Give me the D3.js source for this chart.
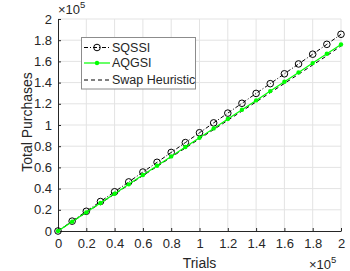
<!DOCTYPE html>
<html>
<head>
<meta charset="utf-8">
<script src="https://cdn.jsdelivr.net/npm/d3@7"></script>
<style>
  body { margin: 0; background: #fff; }
  text { font-family: "Liberation Sans", Arial, Helvetica, sans-serif; fill: #262626; }
</style>
</head>
<body>
<div id="chart"></div>
<script>
// data
var trials = [0, 10000, 20000, 30000, 40000, 50000, 60000, 70000, 80000, 90000, 100000,
  110000, 120000, 130000, 140000, 150000, 160000, 170000, 180000, 190000, 200000];
var sqssi = [0, 9300, 18600, 27800, 37000, 46300, 55600, 64800, 74100, 83400, 92700,
  102000, 111200, 120500, 129800, 139000, 148300, 157600, 166800, 176100, 185600];
var aqgsi = [0, 8800, 17600, 26400, 35200, 44000, 52800, 61600, 70400, 79200, 88000,
  96800, 105600, 114400, 123200, 132000, 140800, 149600, 158400, 167200, 176000];
var swap = [0, 8700, 17400, 26100, 34800, 43500, 52200, 60900, 69600, 78300, 87000,
  95700, 104400, 113100, 121800, 130500, 139200, 147900, 156600, 165300, 174600];
var xTicks = [0, 20000, 40000, 60000, 80000, 100000, 120000, 140000, 160000, 180000, 200000];
var yTicks = [0, 20000, 40000, 60000, 80000, 100000, 120000, 140000, 160000, 180000, 200000];
var seriesNames = ["SQSSI", "AQGSI", "Swap Heuristic"];

var width = 350, height = 271;
var margin = {top: 19, right: 9, bottom: 40, left: 58};

var svg = d3.select("#chart").append("svg")
  .attr("width", width)
  .attr("height", height);

var x = d3.scaleLinear().domain([0, 200000]).range([margin.left, width - margin.right]);
var y = d3.scaleLinear().domain([0, 200000]).range([height - margin.bottom, margin.top]);

var fmt = function(d){ return d === 0 ? "0" : d3.format("~g")(d / 1e5); };

// grid
svg.append("g").selectAll("line").data(xTicks.slice(1)).enter().append("line")
  .attr("x1", function(d){ return x(d); }).attr("x2", function(d){ return x(d); })
  .attr("y1", y(0)).attr("y2", y(200000))
  .attr("stroke", "#e3e3e3").attr("stroke-width", 1);
svg.append("g").selectAll("line").data(yTicks.slice(1)).enter().append("line")
  .attr("y1", function(d){ return y(d); }).attr("y2", function(d){ return y(d); })
  .attr("x1", x(0)).attr("x2", x(200000))
  .attr("stroke", "#e3e3e3").attr("stroke-width", 1);

// axes
var xAxis = svg.append("g")
  .attr("transform", "translate(0," + y(0) + ")")
  .call(d3.axisBottom(x).tickValues(xTicks).tickFormat(fmt).tickSizeInner(-3).tickSizeOuter(0).tickPadding(8));
var yAxis = svg.append("g")
  .attr("transform", "translate(" + x(0) + ",0)")
  .call(d3.axisLeft(y).tickValues(yTicks).tickFormat(fmt).tickSizeInner(-3).tickSizeOuter(0).tickPadding(6));
[xAxis, yAxis].forEach(function(a){
  a.attr("font-size", null).attr("font-family", null);
  a.select(".domain").attr("stroke", "#262626");
  a.selectAll(".tick line").attr("stroke", "#262626");
  a.selectAll(".tick text").attr("fill", "#262626")
    .style("font-size", "13px")
    .style("font-family", "'Liberation Sans', Arial, sans-serif");
});

// exponent labels
var topExp = svg.append("text").attr("x", 58).attr("y", 14).style("font-size", "13px");
topExp.append("tspan").text("\u00d710");
topExp.append("tspan").attr("dy", -6).style("font-size", "9.5px").text("5");
var botExp = svg.append("text").attr("x", 309).attr("y", 269).style("font-size", "13px");
botExp.append("tspan").text("\u00d710");
botExp.append("tspan").attr("dy", -6).style("font-size", "9.5px").text("5");

// axis titles
svg.append("text").attr("x", x(100000)).attr("y", 268)
  .attr("text-anchor", "middle").style("font-size", "14px").text("Trials");
svg.append("text").attr("transform", "translate(32,122) rotate(-90)")
  .attr("text-anchor", "middle").style("font-size", "14px").text("Total Purchases");

// lines
function line(vals){
  return d3.line().x(function(d, i){ return x(trials[i]); }).y(function(d){ return y(d); })(vals);
}

svg.append("path").attr("d", line(swap))
  .attr("fill", "none").attr("stroke", "#000").attr("stroke-width", 1)
  .attr("stroke-dasharray", "4,3");

svg.append("path").attr("d", line(sqssi))
  .attr("fill", "none").attr("stroke", "#000").attr("stroke-width", 1)
  .attr("stroke-dasharray", "4,2,1,2");
svg.append("g").selectAll("circle").data(sqssi).enter().append("circle")
  .attr("cx", function(d, i){ return x(trials[i]); })
  .attr("cy", function(d){ return y(d); })
  .attr("r", 3.3).attr("fill", "none").attr("stroke", "#000").attr("stroke-width", 1);

svg.append("path").attr("d", line(aqgsi))
  .attr("fill", "none").attr("stroke", "#00ff00").attr("stroke-width", 1.2);
svg.append("g").selectAll("circle").data(aqgsi).enter().append("circle")
  .attr("cx", function(d, i){ return x(trials[i]); })
  .attr("cy", function(d){ return y(d); })
  .attr("r", 2.2).attr("fill", "#00ff00");

// legend
var lg = svg.append("g");
lg.append("rect").attr("x", 81.5).attr("y", 37.5).attr("width", 114).attr("height", 51.5)
  .attr("fill", "#fff").attr("stroke", "#8c8c8c").attr("stroke-width", 1);
var rowY = [47.5, 63, 80];
seriesNames.forEach(function(name, i){
  var yy = rowY[i];
  var l = lg.append("line").attr("x1", 84).attr("x2", 110).attr("y1", yy).attr("y2", yy)
    .attr("stroke-width", 1);
  if (i === 0) {
    l.attr("stroke", "#000").attr("stroke-dasharray", "4,2,1,2");
    lg.append("circle").attr("cx", 97).attr("cy", yy).attr("r", 3.3)
      .attr("fill", "none").attr("stroke", "#000");
  } else if (i === 1) {
    l.attr("stroke", "#00ff00").attr("stroke-width", 1.2);
    lg.append("circle").attr("cx", 97).attr("cy", yy).attr("r", 2.2).attr("fill", "#00ff00");
  } else {
    l.attr("stroke", "#000").attr("stroke-dasharray", "4,3");
  }
  lg.append("text").attr("x", 112).attr("y", yy + 4.3).style("font-size", "12.5px").text(name);
});
</script>
</body>
</html>
